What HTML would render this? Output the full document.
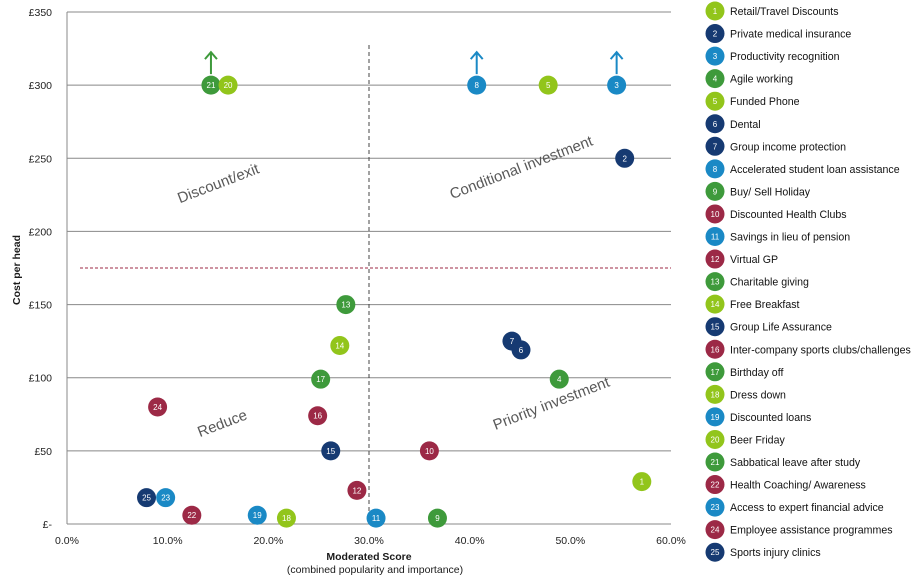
<!DOCTYPE html>
<html><head><meta charset="utf-8"><style>
body{margin:0;background:#fff;font-family:"Liberation Sans",sans-serif}
svg text{font-family:"Liberation Sans",sans-serif}
</style></head><body>
<svg id="c" width="922" height="577" xmlns="http://www.w3.org/2000/svg"></svg>
<script>
const labels=["Retail/Travel Discounts","Private medical insurance","Productivity recognition","Agile working","Funded Phone","Dental","Group income protection","Accelerated student loan assistance","Buy/ Sell Holiday","Discounted Health Clubs","Savings in lieu of pension","Virtual GP","Charitable giving","Free Breakfast","Group Life Assurance","Inter-company sports clubs/challenges","Birthday off","Dress down","Discounted loans","Beer Friday","Sabbatical leave after study","Health Coaching/ Awareness","Access to expert financial advice","Employee assistance programmes","Sports injury clinics"];
const scores=[57.1,55.4,54.6,48.9,47.8,45.1,44.2,40.7,36.8,36.0,30.7,28.8,27.7,27.1,26.2,24.9,25.2,21.8,18.9,16.0,14.3,12.4,9.8,9.0,7.9];
const costs=[29,250,300,99,300,119,125,300,4,50,4,23,150,122,50,74,99,4,6,300,300,6,18,80,18];
const colorKeys=["lg","nv","bl","gr","lg","nv","nv","bl","gr","mr","bl","mr","gr","lg","nv","mr","gr","lg","bl","lg","gr","mr","bl","mr","nv"];
const capped=[0,0,1,0,0,0,0,1,0,0,0,0,0,0,0,0,0,0,0,0,1,0,0,0,0];
const xTicks=[0,10,20,30,40,50,60];
const yTicks=[0,50,100,150,200,250,300,350];
const yTickLabels=["£-","£50","£100","£150","£200","£250","£300","£350"];
const pal={lg:"#92c51b",nv:"#163a72",bl:"#1a89c5",gr:"#3e9a3b",mr:"#9c2946"};
const X0=67,X1=671,Y0=524,Y1=12;
const xs=v=>X0+(v/60)*(X1-X0);
const ys=v=>Y0-(v/350)*(Y0-Y1);
const svg=document.getElementById('c');
const NS="http://www.w3.org/2000/svg";
function mk(t,a,txt){const e=document.createElementNS(NS,t);for(const k in a)e.setAttribute(k,a[k]);if(txt!=null)e.textContent=txt;svg.appendChild(e);return e;}
yTicks.forEach((v,i)=>{
 const l=mk('line',{x1:X0,x2:X1,y1:ys(v),y2:ys(v),stroke:'#888','stroke-width':1});
 
 
 const t=mk('text',{x:52,y:ys(v)+4,'text-anchor':'end','font-size':10.5,fill:'#222'},yTickLabels[i]);
 
 
});
mk('line',{x1:X0,x2:X0,y1:Y1,y2:Y0,stroke:'#888'});
xTicks.forEach(v=>{
 const t=mk('text',{x:xs(v),y:544,'text-anchor':'middle','font-size':10.5,fill:'#222'},v.toFixed(1)+'%');
 
 
});
const vd=mk('line',{x1:xs(30),x2:xs(30),y1:45,y2:Y0,stroke:'#444','stroke-dasharray':'4,3'});


const hd=mk('line',{x1:80,x2:X1,y1:ys(175),y2:ys(175),stroke:'#9c2946','stroke-dasharray':'3,2'});


[["Discount/exit",220,188],["Conditional investment",523,172],["Reduce",224,428],["Priority investment",553,408]].forEach(q=>{
 const t=mk('text',{x:q[1],y:q[2],'text-anchor':'middle','font-size':15,fill:'#595959',transform:`rotate(-21 ${q[1]} ${q[2]})`},q[0]);
 
 
});
const yt=mk('text',{x:20,y:270,'text-anchor':'middle','font-size':10.5,'font-weight':'bold',fill:'#1a1a1a',transform:'rotate(-90 20 270)'},'Cost per head');


const xt=mk('text',{x:369,y:560,'text-anchor':'middle','font-size':10.5,'font-weight':'bold',fill:'#1a1a1a'},'Moderated Score');


const xt2=mk('text',{x:375,y:573,'text-anchor':'middle','font-size':10.5,fill:'#1a1a1a'},'(combined popularity and importance)');


for(let i=scores.length-1;i>=0;i--){
 const cx=xs(scores[i]),cy=ys(costs[i]),c=pal[colorKeys[i]];
 if(capped[i]){
  const a=mk('path',{d:`M${cx} ${cy-11}V${cy-32}M${cx-6} ${cy-26}L${cx} ${cy-33}L${cx+6} ${cy-26}`,stroke:c,'stroke-width':2,fill:'none'});
  
  
 }
 const p=mk('circle',{cx:cx,cy:cy,r:9.5,fill:c});
 
 
 const t=mk('text',{x:cx,y:cy+3,'text-anchor':'middle','font-size':8,fill:'#fff'},String(i+1));
 
 
}
labels.forEach((s,i)=>{
 const y=11+i*22.55,c=pal[colorKeys[i]];
 const g=mk('circle',{cx:715,cy:y,r:9.5,fill:c});
 
 
 const n=mk('text',{x:715,y:y+3,'text-anchor':'middle','font-size':8,fill:'#fff'},String(i+1));
 
 
 const t=mk('text',{x:730,y:y+4,'font-size':10.6,fill:'#111'},s);
 
 
});
</script>
</body></html>
